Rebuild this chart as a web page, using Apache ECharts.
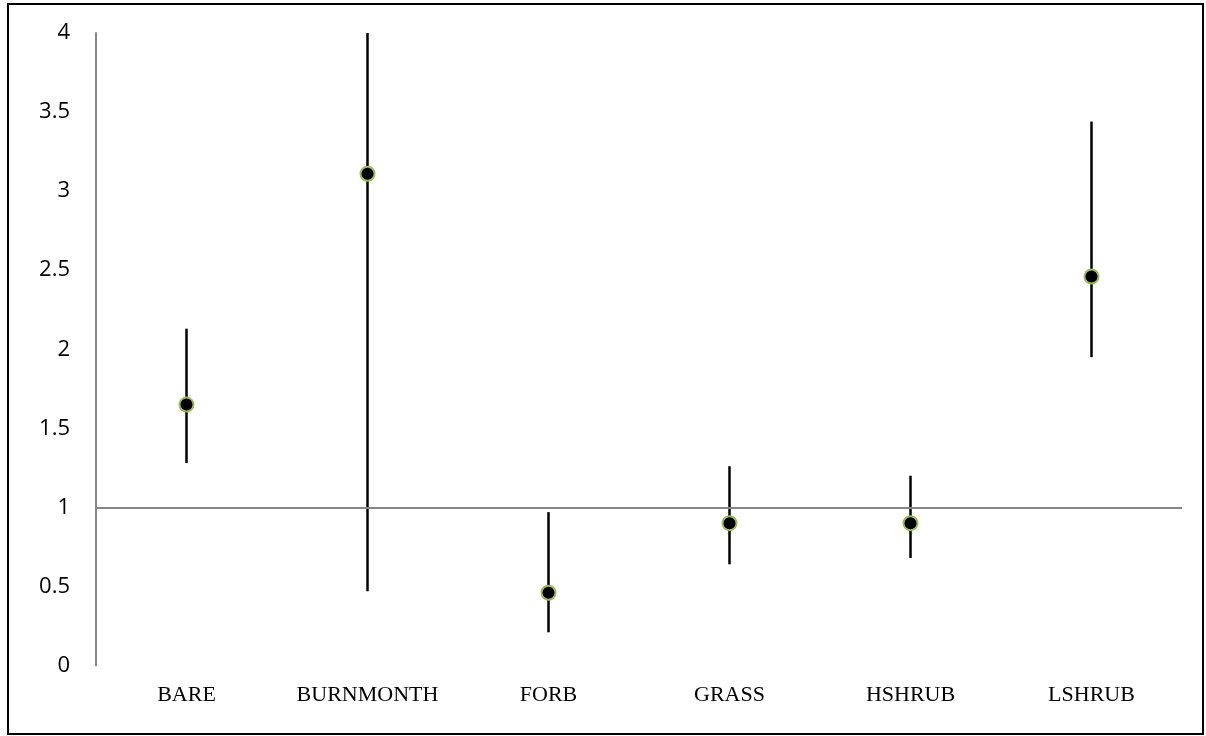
<!DOCTYPE html>
<html>
<head>
<meta charset="utf-8">
<script src="https://cdn.jsdelivr.net/npm/echarts@6/dist/echarts.min.js"></script>
<style>
html,body{margin:0;padding:0;background:#fff;}
#chart{width:1206px;height:736px;}
</style>
</head>
<body>
<div id="chart"></div>
<script>
var categories = ['BARE', 'BURNMONTH', 'FORB', 'GRASS', 'HSHRUB', 'LSHRUB'];
var means = [1.65, 3.11, 0.46, 0.90, 0.90, 2.46];
var lower = [1.28, 0.47, 0.21, 0.64, 0.68, 1.95];
var upper = [2.13, 4.00, 0.97, 1.26, 1.20, 3.44];
var referenceValue = 1;

var barData = categories.map(function (c, i) { return [i, lower[i], upper[i]]; });

var chart = echarts.init(document.getElementById('chart'), null, {renderer: 'canvas'});
chart.setOption({
  animation: false,
  backgroundColor: '#ffffff',
  graphic: [{
    type: 'rect',
    shape: {x: 8, y: 4, width: 1195, height: 730},
    style: {fill: 'none', stroke: '#000', lineWidth: 2},
    silent: true,
    z: 100
  }],
  grid: {left: 96, right: 24, top: 33, bottom: 70.5, containLabel: false},
  xAxis: {
    type: 'category',
    data: categories,
    boundaryGap: true,
    axisLine: {show: false},
    axisTick: {show: false},
    splitLine: {show: false},
    axisLabel: {
      color: '#000',
      fontFamily: 'Liberation Serif',
      fontSize: 22,
      margin: 19,
      interval: 0
    }
  },
  yAxis: {
    type: 'value',
    min: 0,
    max: 4,
    interval: 0.5,
    axisLine: {show: true, lineStyle: {color: '#868686', width: 2}},
    axisTick: {show: false},
    splitLine: {show: false},
    axisLabel: {
      color: '#000',
      fontFamily: 'Open Sans',
      fontSize: 22,
      margin: 26
    }
  },
  series: [
    {
      type: 'line',
      data: [],
      z: 1,
      markLine: {
        silent: true,
        symbol: 'none',
        label: {show: false},
        lineStyle: {color: '#868686', width: 2, type: 'solid'},
        data: [{yAxis: referenceValue}]
      }
    },
    {
      type: 'custom',
      z: 2,
      data: barData,
      renderItem: function (params, api) {
        var lo = api.coord([api.value(0), api.value(1)]);
        var hi = api.coord([api.value(0), api.value(2)]);
        return {
          type: 'line',
          shape: {x1: lo[0], y1: lo[1], x2: hi[0], y2: hi[1]},
          style: {stroke: '#000', lineWidth: 2.5}
        };
      }
    },
    {
      type: 'scatter',
      z: 3,
      data: means,
      symbol: 'circle',
      symbolSize: 14,
      itemStyle: {color: '#000', borderColor: '#9bbb59', borderWidth: 2, opacity: 1}
    }
  ]
});
</script>
</body>
</html>
